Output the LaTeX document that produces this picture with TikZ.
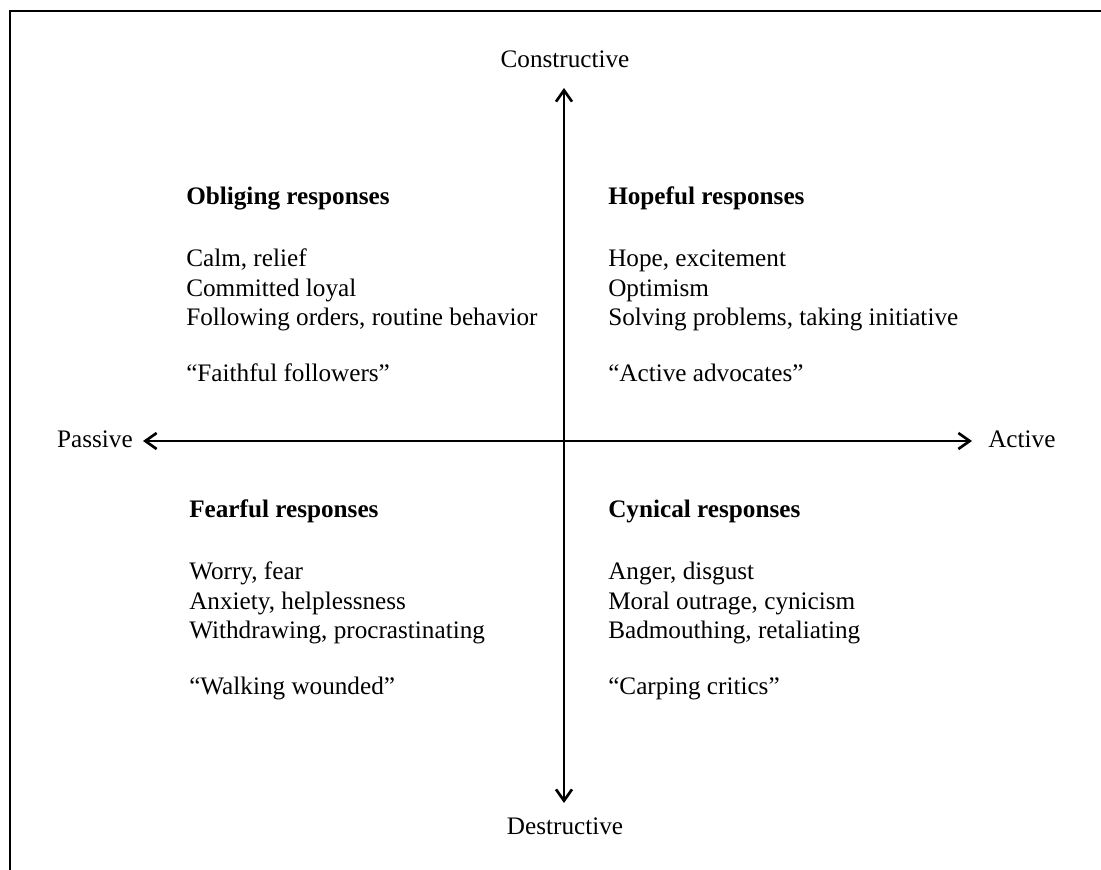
\documentclass[tikz,border=0pt]{standalone}
\usepackage{fontspec}
\setmainfont{Liberation Serif}
\usetikzlibrary{arrows.meta,positioning}

\tikzset{
  txt/.style={font=\fontsize{18.9}{22}\selectfont,inner sep=0pt},
  head/.style={txt,font=\fontsize{18.9}{22}\selectfont\bfseries},
  axis/.style={line width=2pt,
    {Straight Barb[length=8.5pt,width=12pt,line width=2pt]}-{Straight Barb[length=8.5pt,width=12pt,line width=2pt]}}
}

\begin{document}
\begin{tikzpicture}[x=0.75pt,y=-0.75pt]
  \useasboundingbox (0,0) rectangle (1101,870);
  % frame (top and left only)
  \draw[line width=2.2pt] (1101,11) -- (10,11) -- (10,870);

  % axes
  \node[txt,anchor=base] (con) at (565,68) {Constructive};
  \node[txt,anchor=base] (des) at (565,834) {Destructive};
  \node[txt,anchor=base east] (pas) at (133,447) {Passive};
  \node[txt,anchor=base west] (act) at (988,447) {Active};
  \coordinate (top) at (564,88);
  \coordinate (bot) at (564,803);
  \coordinate (lft) at (143,441);
  \coordinate (rgt) at (972,441);
  \draw[axis] (bot) -- (top);
  \draw[axis] (lft) -- (rgt);

  % quadrants
  \foreach \q/\x/\y/\title/\la/\lb/\lc/\quote in {
      ob/186/205/{Obliging responses}/{Calm, relief}/{Committed loyal}/{Following orders, routine behavior}/{``Faithful followers''},
      ho/608/205/{Hopeful responses}/{Hope, excitement}/{Optimism}/{Solving problems, taking initiative}/{``Active advocates''},
      fe/189/517/{Fearful responses}/{Worry, fear}/{Anxiety, helplessness}/{Withdrawing, procrastinating}/{``Walking wounded''},
      cy/608/517/{Cynical responses}/{Anger, disgust}/{Moral outrage, cynicism}/{Badmouthing, retaliating}/{``Carping critics''}} {
    \node[head,anchor=base west] (\q-t) at (\x,\y) {\title};
    \node[txt,anchor=base west] (\q-a) at (\x,{\y+62}) {\la};
    \node[txt,anchor=base west] (\q-b) at (\x,{\y+92}) {\lb};
    \node[txt,anchor=base west] (\q-c) at (\x,{\y+121}) {\lc};
    \node[txt,anchor=base west] (\q-q) at (\x,{\y+177}) {\quote};
  }
\end{tikzpicture}
\end{document}
